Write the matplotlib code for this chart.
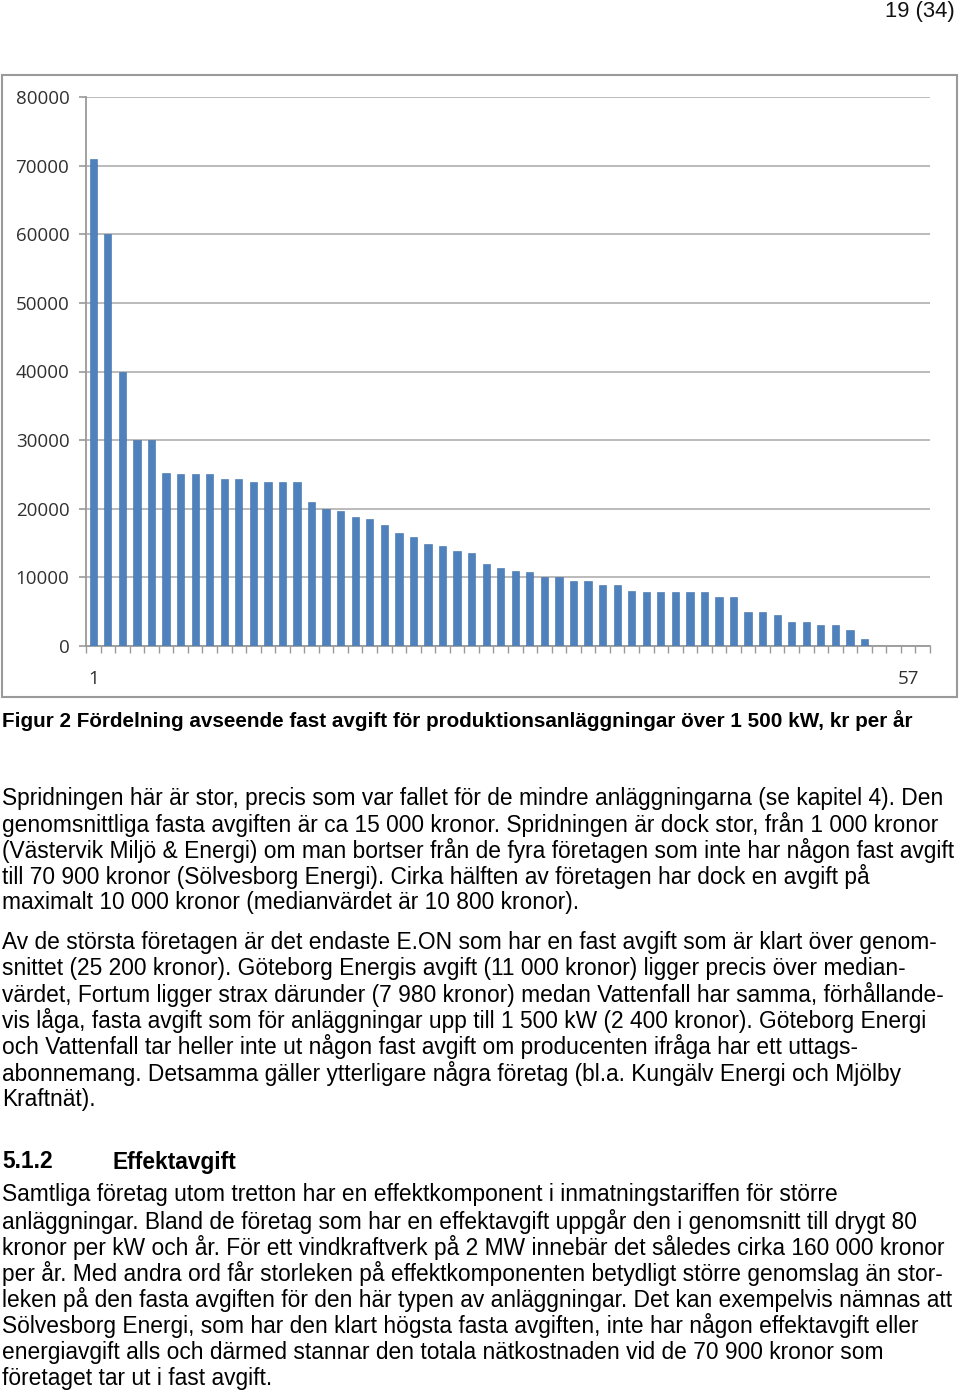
import matplotlib
matplotlib.use("Agg")
import matplotlib.pyplot as plt
from matplotlib.patches import Rectangle
import numpy as np

# Fixed fee per company (kr per year), sorted, 58 companies
fees = [70900, 60000, 40000, 30000, 30000, 25200, 25000, 25000, 25000, 24400,
        24400, 23900, 23900, 23900, 23900, 21000, 20000, 19700, 18800, 18500,
        17700, 16400, 15900, 14900, 14600, 13800, 13500, 12000, 11300, 11000,
        10800, 10000, 10000, 9400, 9400, 8900, 8900, 8000, 7900, 7900,
        7900, 7900, 7900, 7100, 7100, 5000, 5000, 4500, 3500, 3500,
        3000, 3000, 2400, 1000, 0, 0, 0, 0]
x_labels = {1: "1", 57: "57"}
y_ticks = [0, 10000, 20000, 30000, 40000, 50000, 60000, 70000, 80000]

caption = "Figur 2 Fördelning avseende fast avgift för produktionsanläggningar över 1 500 kW, kr per år"
para1 = [
    "Spridningen här är stor, precis som var fallet för de mindre anläggningarna (se kapitel 4). Den",
    "genomsnittliga fasta avgiften är ca 15 000 kronor. Spridningen är dock stor, från 1 000 kronor",
    "(Västervik Miljö & Energi) om man bortser från de fyra företagen som inte har någon fast avgift",
    "till 70 900 kronor (Sölvesborg Energi). Cirka hälften av företagen har dock en avgift på",
    "maximalt 10 000 kronor (medianvärdet är 10 800 kronor).",
]
para2 = [
    "Av de största företagen är det endaste E.ON som har en fast avgift som är klart över genom-",
    "snittet (25 200 kronor). Göteborg Energis avgift (11 000 kronor) ligger precis över median-",
    "värdet, Fortum ligger strax därunder (7 980 kronor) medan Vattenfall har samma, förhållande-",
    "vis låga, fasta avgift som för anläggningar upp till 1 500 kW (2 400 kronor). Göteborg Energi",
    "och Vattenfall tar heller inte ut någon fast avgift om producenten ifråga har ett uttags-",
    "abonnemang. Detsamma gäller ytterligare några företag (bl.a. Kungälv Energi och Mjölby",
    "Kraftnät).",
]
para3 = [
    "Samtliga företag utom tretton har en effektkomponent i inmatningstariffen för större",
    "anläggningar. Bland de företag som har en effektavgift uppgår den i genomsnitt till drygt 80",
    "kronor per kW och år. För ett vindkraftverk på 2 MW innebär det således cirka 160 000 kronor",
    "per år. Med andra ord får storleken på effektkomponenten betydligt större genomslag än stor-",
    "leken på den fasta avgiften för den här typen av anläggningar. Det kan exempelvis nämnas att",
    "Sölvesborg Energi, som har den klart högsta fasta avgiften, inte har någon effektavgift eller",
    "energiavgift alls och därmed stannar den totala nätkostnaden vid de 70 900 kronor som",
    "företaget tar ut i fast avgift.",
]

W, H = 960, 1394
fig = plt.figure(figsize=(W / 100, H / 100), dpi=100)


def fx(px):
    return px / W


def fy(py):
    return 1 - py / H


# chart frame
fig.patches.append(Rectangle((fx(2), fy(697)), fx(957) - fx(2), fy(75) - fy(697),
                             transform=fig.transFigure, fill=False,
                             edgecolor="#9a9a9a", linewidth=1.5))

ax = fig.add_axes([fx(86), fy(646), fx(930) - fx(86), fy(97) - fy(646)])
pos = np.arange(1, len(fees) + 1)
ax.bar(pos, fees, width=0.5, color="#4F81BD", edgecolor="#3f6fa8", linewidth=0.4, zorder=3)
ax.set_xlim(0.5, len(fees) + 0.5)
ax.set_ylim(0, 80000)
ax.set_yticks(y_ticks)
ax.set_yticklabels([str(v) for v in y_ticks])
ax.yaxis.grid(True, color="#b5b5b5", linewidth=1.3, zorder=0)
ax.set_xticks(list(x_labels.keys()))
ax.set_xticklabels(list(x_labels.values()))
ax.set_xticks(np.arange(0.5, len(fees) + 1, 1), minor=True)
ax.tick_params(axis="x", which="major", length=0, pad=17, labelsize=13.5, labelcolor="#303030")
ax.tick_params(axis="x", which="minor", length=5, width=1, color="#9a9a9a", direction="out")
ax.tick_params(axis="y", length=5, width=1.2, color="#9a9a9a", pad=7, labelsize=13.5,
               labelcolor="#303030")
for lab in ax.get_xticklabels() + ax.get_yticklabels():
    lab.set_family("Open Sans")
for s in ["top", "right"]:
    ax.spines[s].set_visible(False)
ax.spines["left"].set_color("#9a9a9a")
ax.spines["left"].set_linewidth(1.3)
ax.spines["bottom"].set_color("#9a9a9a")
ax.spines["bottom"].set_linewidth(1.3)

# page text
fig.text(fx(955), fy(11), "19 (34)", ha="right", va="center", fontsize=15.8,
         family="Liberation Sans", color="#111111")
fig.text(fx(2), fy(721), caption, ha="left", va="center", fontsize=14.9,
         family="Liberation Sans", weight="bold", color="black")

fs = 16.4
body = dict(ha="left", va="center", fontsize=fs, family="Liberation Sans", color="black")
for i, line in enumerate(para1):
    fig.text(fx(2), fy(798 + i * 26.2), line, **body)
for i, line in enumerate(para2):
    fig.text(fx(2), fy(942 + i * 26.2), line, **body)
fig.text(fx(2), fy(1162), "5.1.2", ha="left", va="center", fontsize=fs,
         family="Liberation Sans", weight="bold")
fig.text(fx(113), fy(1162), "Effektavgift", ha="left", va="center", fontsize=fs,
         family="Liberation Sans", weight="bold")
for i, line in enumerate(para3):
    fig.text(fx(2), fy(1195 + i * 26.2), line, **body)

fig.savefig("out.png", dpi=100)
